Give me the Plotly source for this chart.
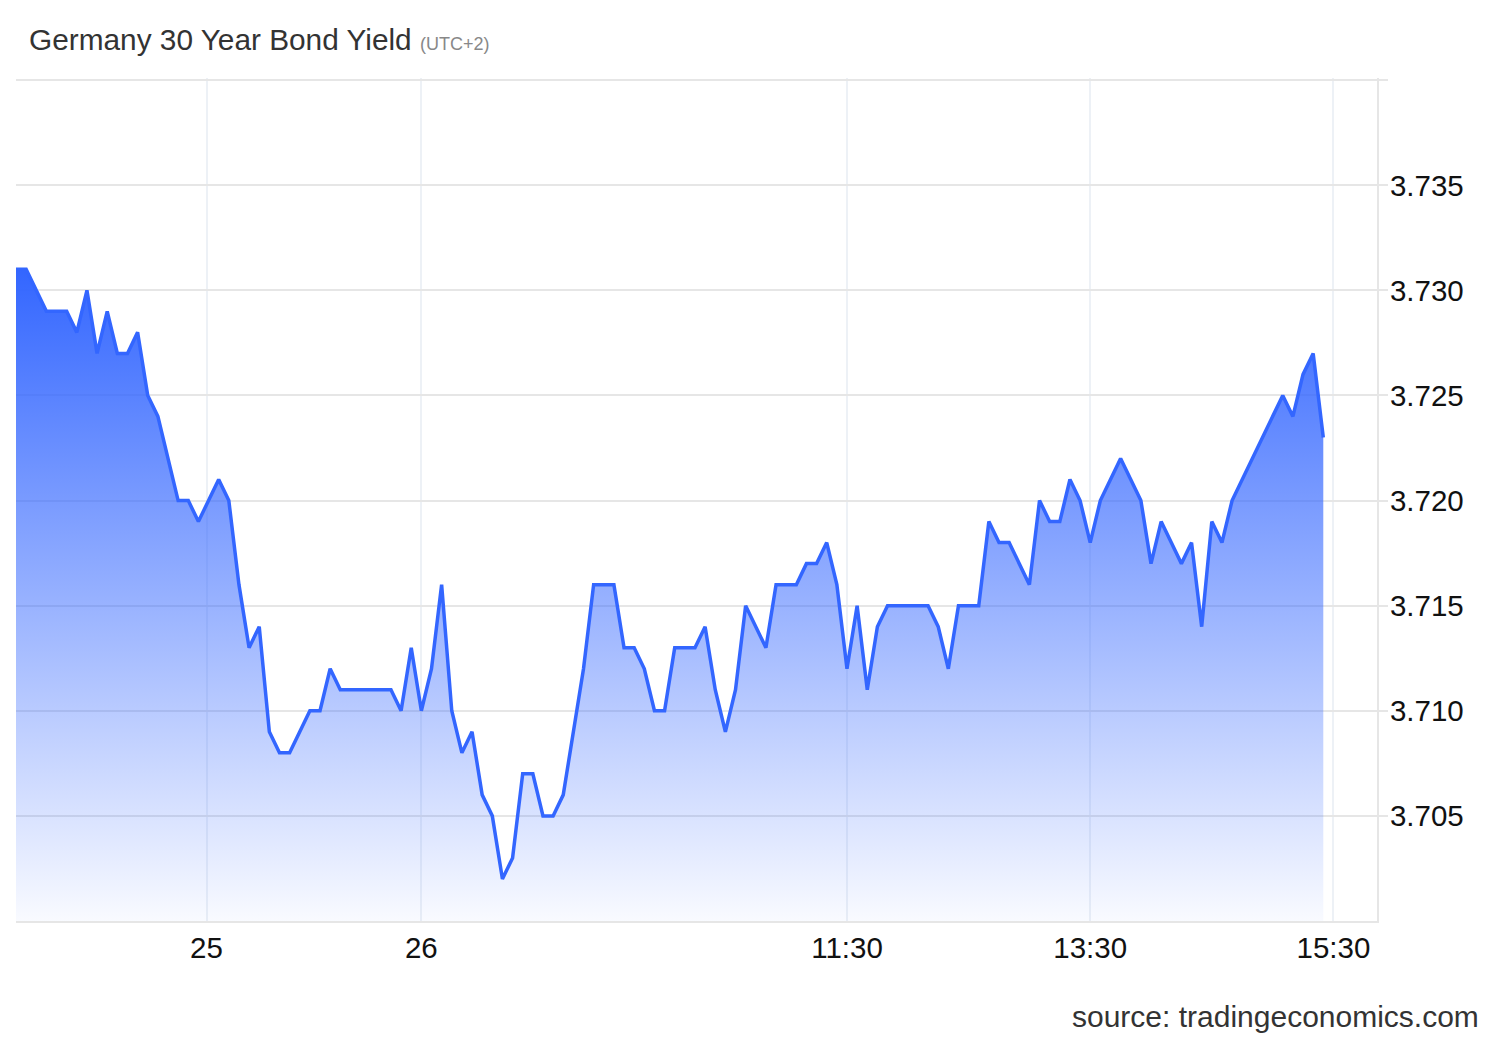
import plotly.graph_objects as go

# Germany 30Y bond yield, 5-minute points (index based, session gaps removed)
yields = [
    3.731, 3.731, 3.730, 3.729, 3.729, 3.729, 3.728, 3.730, 3.727, 3.729,
    3.727, 3.727, 3.728, 3.725, 3.724, 3.722, 3.720, 3.720, 3.719, 3.720,
    3.721, 3.720, 3.716, 3.713, 3.714, 3.709, 3.708, 3.708, 3.709, 3.710,
    3.710, 3.712, 3.711, 3.711, 3.711, 3.711, 3.711, 3.711, 3.710, 3.713,
    3.710, 3.712, 3.716, 3.710, 3.708, 3.709, 3.706, 3.705, 3.702, 3.703,
    3.707, 3.707, 3.705, 3.705, 3.706, 3.709, 3.712, 3.716, 3.716, 3.716,
    3.713, 3.713, 3.712, 3.710, 3.710, 3.713, 3.713, 3.713, 3.714, 3.711,
    3.709, 3.711, 3.715, 3.714, 3.713, 3.716, 3.716, 3.716, 3.717, 3.717,
    3.718, 3.716, 3.712, 3.715, 3.711, 3.714, 3.715, 3.715, 3.715, 3.715,
    3.715, 3.714, 3.712, 3.715, 3.715, 3.715, 3.719, 3.718, 3.718, 3.717,
    3.716, 3.720, 3.719, 3.719, 3.721, 3.720, 3.718, 3.720, 3.721, 3.722,
    3.721, 3.720, 3.717, 3.719, 3.718, 3.717, 3.718, 3.714, 3.719, 3.718,
    3.720, 3.721, 3.722, 3.723, 3.724, 3.725, 3.724, 3.726, 3.727, 3.723,
]
idx = list(range(len(yields)))

x_tick_pos = [18.8, 40, 82, 106, 130]
x_tick_text = ["25", "26", "11:30", "13:30", "15:30"]

y_tick_vals = [3.705, 3.710, 3.715, 3.720, 3.725, 3.730, 3.735, 3.740]
y_tick_text = ["3.705", "3.710", "3.715", "3.720", "3.725", "3.730", "3.735", ""]

# page body adds 8px, so figure is 8px smaller than the window
W, H = 1492, 1032

fig = go.Figure()

fig.add_trace(go.Scatter(
    x=idx, y=yields,
    mode="lines",
    line=dict(color="#3366ff", width=3.5),
    fill="tozeroy",
    fillgradient=dict(
        type="vertical",
        start=3.700, stop=3.731,
        colorscale=[[0, "rgba(51,102,255,0.03)"], [1, "rgba(51,102,255,1)"]],
    ),
    showlegend=False,
    hoverinfo="y",
))

fig.update_layout(
    width=W, height=H,
    paper_bgcolor="white", plot_bgcolor="white",
    margin=dict(l=8, r=123, t=70, b=119),
    font=dict(family="Liberation Sans, Arial, sans-serif", size=29.5, color="#111"),
    title=dict(
        text="Germany 30 Year Bond Yield <span style='font-size:18px;color:#888'>(UTC+2)</span>",
        x=21 / W, xanchor="left", xref="container",
        y=1 - 32 / H, yanchor="middle", yref="container",
        font=dict(size=29.8, color="#333"),
    ),
    xaxis=dict(
        range=[0, 134.3],
        tickvals=x_tick_pos, ticktext=x_tick_text,
        showgrid=True, gridcolor="#edf1f6", gridwidth=1.5,
        showline=True, linecolor="#e6e6e6", linewidth=2,
        ticks="", zeroline=False,
        tickfont=dict(color="#111"),
    ),
    yaxis=dict(
        side="right",
        range=[3.700, 3.7401],
        tickvals=y_tick_vals, ticktext=y_tick_text,
        showgrid=True, gridcolor="#e6e6e6", gridwidth=2,
        showline=True, linecolor="#e6e6e6", linewidth=2,
        ticks="outside", ticklen=9, tickcolor="#e6e6e6", tickwidth=2,
        ticklabelstandoff=-4,
        zeroline=False,
        tickfont=dict(color="#111"),
    ),
    annotations=[dict(
        text="source: tradingeconomics.com",
        xref="paper", yref="paper",
        x=(1473 - 8) / 1361, y=(913 - 1008) / 843,
        xanchor="right", yanchor="middle",
        showarrow=False,
        font=dict(size=30, color="#333"),
    )],
)

fig.write_html("out.html")
